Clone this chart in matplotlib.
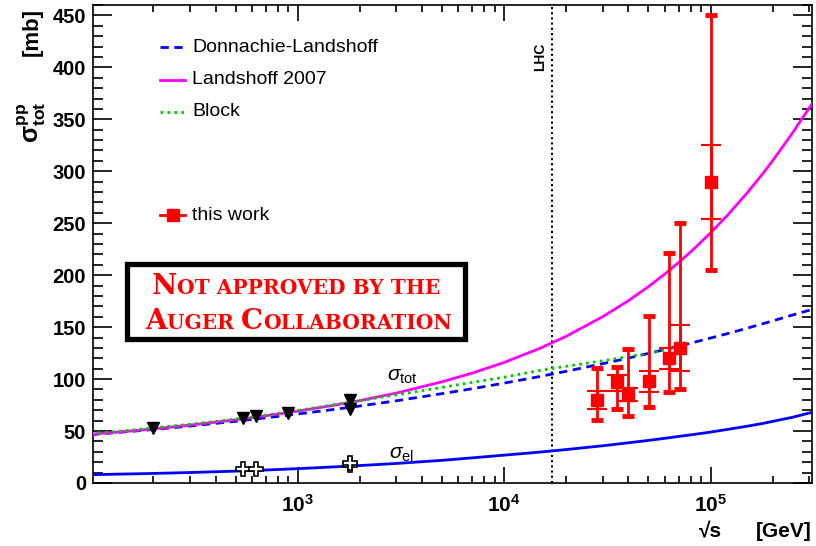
import math
import matplotlib
matplotlib.use('Agg')
import matplotlib.pyplot as plt
from matplotlib.patches import Rectangle
from matplotlib.ticker import MultipleLocator, FixedLocator, LogLocator, FuncFormatter, NullFormatter

plt.rcParams['font.family'] = ['Liberation Sans', 'DejaVu Sans']
plt.rcParams['mathtext.fontset'] = 'custom'
plt.rcParams['mathtext.rm'] = 'Liberation Sans'
plt.rcParams['mathtext.it'] = 'Liberation Sans:italic'
plt.rcParams['mathtext.bf'] = 'Liberation Sans:bold'

# model curves, values [GeV, mb]
curve_energy = [100, 150, 200, 300, 500, 700, 1e3, 1.5e3, 2e3, 3e3, 5e3, 7e3, 1e4, 1.5e4,
                2e4, 3e4, 4e4, 5e4, 6e4, 7e4, 8e4, 1e5, 1.2e5, 1.5e5, 1.8e5, 2e5, 2.5e5, 3.1e5]
dl_tot = [46.6, 49.4, 51.5, 54.8, 59.4, 62.7, 66.4, 70.8, 74.1, 79.1, 86.0, 90.7, 96.1, 102.6,
          107.5, 114.8, 120.2, 124.7, 128.4, 131.7, 134.5, 139.5, 143.6, 148.9, 153.4, 156.0, 161.7, 167.0]
landshoff_tot = [46.9, 49.8, 52.1, 55.7, 60.8, 64.7, 69.2, 74.8, 79.3, 86.5, 97.4, 105.7, 116.0, 129.8,
                 141.2, 160.0, 175.4, 189.0, 201.0, 212.2, 222.3, 240.7, 257.1, 278.9, 298.3, 310.2, 337.2, 365.0]
sigma_el = [8.0, 8.7, 9.2, 10.1, 11.4, 12.5, 13.8, 15.5, 16.8, 18.8, 21.8, 24.2, 26.8, 29.8,
            32.2, 35.8, 38.7, 41.0, 43.0, 44.8, 46.3, 49.0, 51.5, 54.6, 57.4, 59.3, 63.3, 68.0]
block_energy = [100, 150, 200, 300, 500, 700, 1e3, 1.5e3, 2e3, 3e3, 5e3, 7e3, 1e4, 1.5e4,
                2e4, 3e4, 4e4, 5e4, 6e4, 7e4]
block_tot = [47.5, 50.5, 53.0, 56.5, 61.5, 65.3, 69.8, 75.3, 79.2, 84.8, 92.0, 96.8, 101.8, 108.4,
             112.3, 117.6, 121.6, 124.9, 127.9, 130.6]

# accelerator measurements
acc_energy = [200, 546, 630, 900, 1800, 1800]
acc_tot = [53, 63, 64, 67.5, 80, 71]
acc_el_energy = [546, 630, 1800, 1800]
acc_el = [13.5, 13.5, 17, 19.5]

# this work
work_energy = [28100, 35300, 39800, 50100, 62900, 70800, 100000]
work_tot = [80, 97, 85, 98, 120, 130, 290]
stat_down = [9, 8, 6.5, 10, 10, 22, 35.5]
stat_up = [9, 7, 6.5, 9.5, 10, 22.5, 35]
tot_down = [19.5, 26, 21, 25, 32, 39.5, 85]
tot_up = [30.5, 15, 44, 62.5, 101, 120.5, 160]

lhc_energy = 1.7e4

W, H = 816, 546


def px_x(x):
    return (x - 93) / 719


def px_y(y):
    return (483 - y) / 478


def small_caps(ax, pieces, x, y, big, small):
    # fake small caps by chaining text pieces
    prev = None
    for txt, is_big in pieces:
        size = big if is_big else small
        kw = dict(color='red', fontsize=size, fontweight='bold',
                  family='DejaVu Serif', va='baseline', ha='left', zorder=11)
        if prev is None:
            prev = ax.text(x, y, txt, transform=ax.transAxes, **kw)
        else:
            prev = ax.annotate(txt, xy=(1, y), xycoords=(prev, 'axes fraction'), **kw)


fig = plt.figure(figsize=(W / 100, H / 100), dpi=100)
ax = fig.add_axes([93 / W, 63 / H, 719 / W, 478 / H])
ax.set_xscale('log')
ax.set_xlim(102, 3.1e5)
ax.set_ylim(0, 460)

ax.plot(curve_energy, sigma_el, color='#0000ff', lw=2, zorder=3)
ax.plot(curve_energy, dl_tot, color='#0000ff', lw=2, ls=(0, (3, 2)), zorder=3)
ax.plot(curve_energy, landshoff_tot, color='#ff00ff', lw=2, zorder=4)
ax.plot(block_energy, block_tot, color='#00cc00', lw=2, ls=(0, (1, 1.5)), zorder=5)

ax.axvline(lhc_energy, color='black', lw=1.5, ls=(0, (1, 1.5)), zorder=2)

ax.plot(acc_energy, acc_tot, 'v', color='black', ms=9, zorder=6)
ax.plot(acc_el_energy, acc_el, 'P', mfc='white', mec='black', mew=1.2, ms=10, zorder=6)

ax.errorbar(work_energy, work_tot, yerr=[tot_down, tot_up], fmt='none', ecolor='red',
            elinewidth=2, capsize=4.5, capthick=3.5, zorder=7)
ax.errorbar(work_energy, work_tot, yerr=[stat_down, stat_up], fmt='none', ecolor='red',
            elinewidth=2, capsize=7, capthick=1.5, zorder=7)
ax.plot(work_energy, work_tot, 's', color='red', ms=8.5, zorder=8)

# legend, drawn by hand
legend_rows = [(47, dict(color='#0000ff', ls=(0, (3, 2))), 'Donnachie-Landshoff'),
               (80, dict(color='#ff00ff', ls='-'), 'Landshoff 2007'),
               (112, dict(color='#00cc00', ls=(0, (1, 1.5))), 'Block')]
for y, style, label in legend_rows:
    ax.plot([px_x(160), px_x(185)], [px_y(y), px_y(y)], transform=ax.transAxes, lw=2, **style)
    ax.text(px_x(192), px_y(y), label, transform=ax.transAxes, fontsize=14, va='center')
ax.plot([px_x(160), px_x(185)], [px_y(215), px_y(215)], transform=ax.transAxes,
        color='red', lw=2, zorder=8)
ax.plot([px_x(172.5)], [px_y(215)], 's', color='red', ms=8.5, transform=ax.transAxes)
ax.text(px_x(192), px_y(215), 'this work', transform=ax.transAxes, fontsize=14, va='center')

ax.text(px_x(402), px_y(377), r'$\sigma_{\rm tot}$', transform=ax.transAxes, fontsize=15,
        ha='center', va='center')
ax.text(px_x(402), px_y(455), r'$\sigma_{\rm el}$', transform=ax.transAxes, fontsize=15,
        ha='center', va='center')
ax.text(px_x(540), px_y(57), 'LHC', transform=ax.transAxes, fontsize=10, fontweight='bold',
        rotation=90, ha='center', va='center')

# not approved stamp
ax.add_patch(Rectangle((px_x(127), px_y(339)), 338 / 719, 75 / 478, transform=ax.transAxes,
                       facecolor='white', edgecolor='black', lw=3.8, zorder=10))
small_caps(ax, [('N', True), ('OT APPROVED BY THE', False)], px_x(152), px_y(294), 20, 14.5)
small_caps(ax, [('A', True), ('UGER ', False), ('C', True), ('OLLABORATION', False)],
           px_x(145), px_y(329), 20, 14.5)

# axes style
ax.yaxis.set_major_locator(MultipleLocator(50))
ax.yaxis.set_minor_locator(MultipleLocator(10))
ax.xaxis.set_major_locator(FixedLocator([1e3, 1e4, 1e5]))
ax.xaxis.set_minor_locator(LogLocator(base=10, subs=range(2, 10)))
ax.xaxis.set_minor_formatter(NullFormatter())
ax.xaxis.set_major_formatter(FuncFormatter(lambda v, p: r'$\mathbf{10^{%d}}$' % round(math.log10(v))))
ax.tick_params(which='both', direction='in', top=True, right=True, width=1.2)
ax.tick_params(axis='y', which='major', length=14, labelsize=14.5, pad=5)
ax.tick_params(axis='y', which='minor', length=7)
ax.tick_params(axis='x', which='major', length=11.5, labelsize=15, pad=8)
ax.tick_params(axis='x', which='minor', length=5)
for lab in ax.get_yticklabels():
    lab.set_fontweight('bold')
for s in ax.spines.values():
    s.set_linewidth(1.2)

fig.text(32 / W, 1 - 8 / H, '[mb]', rotation=90, ha='center', va='top', fontsize=16, fontweight='bold')
fig.text(32 / W, 1 - 102 / H, r'$\mathbf{\sigma^{pp}_{tot}}$', rotation=90, ha='center', va='top',
         fontsize=18)
fig.text(711 / W, 1 - 541 / H, '√s', ha='center', va='bottom', fontsize=15, fontweight='bold')
fig.text(812 / W, 1 - 541 / H, '[GeV]', ha='right', va='bottom', fontsize=15, fontweight='bold')

fig.savefig('out.png', dpi=100)
